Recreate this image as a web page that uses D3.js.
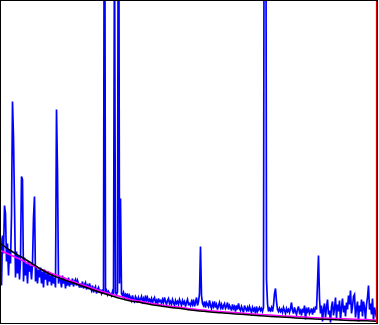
<!DOCTYPE html>
<html>
<head>
<meta charset="utf-8">
<script src="https://cdn.jsdelivr.net/npm/d3@7"></script>
<style>
    html, body { margin: 0; padding: 0; background: #fff; }
    svg { display: block; }
</style>
</head>
<body>
<svg id="spectrum" width="379" height="325"></svg>
<script>
// measured spectrum, one value per bin
var amplitude = [
    86, 38, 88, 70, 118, 110, 62, 80, 48, 74,
    60, 108, 222, 186, 118, 46, 72, 50, 68, 44,
    64, 147, 144, 42, 66, 48, 60, 40, 62, 52,
    58, 44, 60, 106, 127, 42, 56, 40, 54, 46,
    56, 40, 52, 36, 54, 44, 50, 38, 52, 42,
    48, 38, 50, 40, 46, 36, 214, 152, 40, 46,
    44, 36, 48, 40, 46, 35, 44, 38, 46, 37,
    43, 39, 45, 37, 42, 44, 38, 43, 40, 36,
    40, 36, 42, 35, 39, 41, 34, 38, 36, 40,
    36, 33, 38, 31, 35, 37, 30, 34, 36, 32,
    33, 30, 34, 30, 600, 31, 33, 29, 32, 30,
    30, 28, 32, 29, 400, 31, 29, 32, 600, 40,
    125, 30, 28, 31, 26, 29, 27, 30, 24, 28,
    26, 23, 28, 24, 22, 27, 25, 21, 26, 23,
    24, 27, 22, 25, 21, 28, 23, 26, 22, 24,
    22, 25, 20, 24, 26, 21, 23, 19, 25, 22,
    23, 20, 24, 21, 26, 22, 19, 23, 25, 20,
    22, 19, 24, 21, 18, 23, 20, 22, 19, 24,
    21, 18, 23, 20, 22, 17, 21, 24, 19, 20,
    18, 22, 19, 24, 17, 21, 26, 18, 22, 30,
    77, 28, 20, 18, 22, 16, 21, 19, 17, 23,
    18, 15, 20, 17, 22, 16, 19, 14, 18, 21,
    16, 19, 14, 18, 20, 15, 17, 21, 14, 18,
    16, 13, 19, 15, 17, 12, 18, 14, 20, 15,
    13, 17, 14, 11, 18, 15, 13, 16, 12, 17,
    14, 11, 16, 13, 15, 10, 17, 12, 14, 16,
    13, 15, 12, 16, 700, 700, 44, 20, 12, 15,
    13, 16, 12, 18, 30, 35, 22, 14, 12, 15,
    12, 14, 11, 16, 13, 10, 15, 12, 14, 11,
    15, 21, 13, 10, 16, 12, 9, 14, 17, 11,
    13, 8, 15, 11, 18, 4, 14, 12, 16, 10,
    12, 15, 9, 14, 11, 17, 14, 40, 68, 25,
    10, 18, 2, 14, 20, 6, 16, 24, 9, 13,
    1, 17, 22, 8, 15, 26, 5, 19, 12, 23,
    3, 16, 25, 11, 18, 7, 21, 14, 28, 19,
    33, 10, 17, 27, 29, 6, 15, 22, 2, 18,
    12, 24, 7, 22, 16, 4, 19, 26, 38, 14,
    20, 9, 25, 3, 16, 11, 6
];

// fitted curves, read at a few bins
var fitBins = [0, 10, 20, 30, 40, 50, 60, 70, 80, 90, 100, 110, 120, 130, 140, 150, 160, 170, 180, 190,
    200, 210, 220, 230, 240, 250, 260, 270, 280, 290, 300, 310, 320, 330, 340, 350, 360, 370, 376];
var fitBlack = [80, 73, 67, 61, 54.5, 49, 45, 41.5, 38, 34.5, 31, 28, 25, 22.5, 21, 19, 17.5, 16, 15, 13.5,
    12.5, 11.5, 10.8, 10, 9.2, 8.4, 7.7, 7, 6.4, 5.9, 5.3, 4.8, 4.3, 3.9, 3.5, 3.1, 2.8, 2.5, 2.3];
var fitMagenta = [73, 68.5, 64, 59, 54.5, 50.5, 47, 43, 39.5, 36, 32.5, 29.5, 27, 24, 22.2, 20.3, 18.8, 17.3, 16.2, 14.8,
    13.8, 12.8, 12, 11.2, 10.4, 9.7, 9, 8.4, 7.8, 7.2, 6.7, 6.1, 5.6, 5.2, 4.8, 4.4, 4.1, 3.8, 3.6];

var cutoffBin = 376;

var svg = d3.select("#spectrum");

var x = d3.scaleLinear().domain([0, 377]).range([0.5, 377.5]);
var y = d3.scaleLinear().domain([0, 323]).range([323.5, 0.5]);

svg.append("clipPath")
    .attr("id", "plot-clip")
    .append("rect")
    .attr("x", 0.5)
    .attr("y", 0.5)
    .attr("width", 377)
    .attr("height", 323);

var plot = svg.append("g").attr("clip-path", "url(#plot-clip)");

var spectrumLine = d3.line()
    .x((d, i) => x(i))
    .y((d) => y(d));

plot.append("path")
    .datum(amplitude)
    .attr("d", spectrumLine)
    .style("fill", "none")
    .style("stroke", "#0000ff")
    .style("stroke-width", 1.7);

var fitLine = d3.line()
    .x((d, i) => x(fitBins[i]))
    .y((d) => y(d))
    .curve(d3.curveMonotoneX);

plot.append("path")
    .datum(fitMagenta)
    .attr("d", fitLine)
    .style("fill", "none")
    .style("stroke", "#ff00ff")
    .style("stroke-width", 1.5);

plot.append("path")
    .datum(fitBlack)
    .attr("d", fitLine)
    .style("fill", "none")
    .style("stroke", "#000")
    .style("stroke-width", 1.5);

plot.append("line")
    .attr("x1", x(cutoffBin))
    .attr("x2", x(cutoffBin))
    .attr("y1", y(323))
    .attr("y2", y(0))
    .style("stroke", "#e00000")
    .style("stroke-width", 1.2);

// frame
svg.append("rect")
    .attr("x", 0.5)
    .attr("y", 0.5)
    .attr("width", 377)
    .attr("height", 323)
    .style("fill", "none")
    .style("stroke", "#000")
    .style("stroke-width", 1);
</script>
</body>
</html>
